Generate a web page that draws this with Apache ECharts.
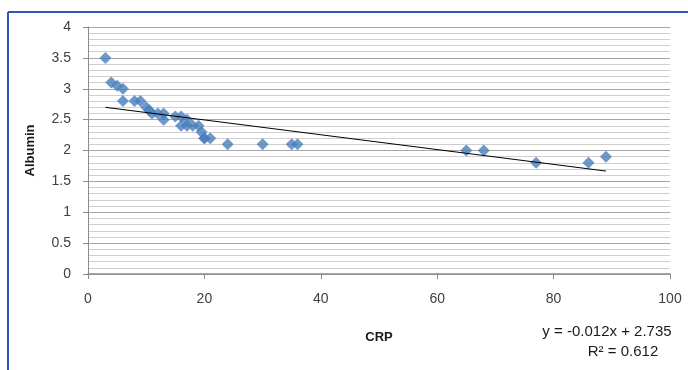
<!DOCTYPE html>
<html>
<head>
<meta charset="utf-8">
<script src="https://cdn.jsdelivr.net/npm/echarts@6/dist/echarts.min.js"></script>
<style>
html,body{margin:0;padding:0;background:#fff;}
#c{width:688px;height:370px;}
</style>
</head>
<body>
<div id="c"></div>
<script>
var crp = [3, 4, 5, 6, 6, 8, 9, 10, 10.5, 11, 12, 13, 13, 15, 16, 16, 17, 17, 18, 19, 19.5, 20, 20, 21, 24, 30, 35, 36, 65, 68, 77, 86, 89];
var albumin = [3.5, 3.1, 3.05, 3.0, 2.8, 2.8, 2.8, 2.7, 2.65, 2.6, 2.6, 2.5, 2.6, 2.55, 2.55, 2.4, 2.5, 2.4, 2.4, 2.4, 2.3, 2.2, 2.2, 2.2, 2.1, 2.1, 2.1, 2.1, 2.0, 2.0, 1.8, 1.8, 1.9];
var trendX = [3, 89];
var trendY = [2.699, 1.667];
var xTicks = [0, 20, 40, 60, 80, 100];
var yTicks = [0, 0.5, 1, 1.5, 2, 2.5, 3, 3.5, 4];
var equationText = 'y = -0.012x + 2.735';
var r2Text = 'R² = 0.612';

var chart = echarts.init(document.getElementById('c'), null, {renderer: 'canvas'});
var font = 'Liberation Sans';
var option = {
  animation: false,
  backgroundColor: '#fff',
  grid: {left: 88, right: 18, top: 27, bottom: 96, containLabel: false},
  xAxis: {
    type: 'value', min: xTicks[0], max: xTicks[xTicks.length - 1], interval: 20,
    name: 'CRP', nameLocation: 'middle', nameGap: 57,
    nameTextStyle: {fontFamily: font, fontSize: 13, fontWeight: 'bold', color: '#1a1a1a'},
    axisLine: {show: true, lineStyle: {color: '#8c8c8c', width: 1.5}},
    axisTick: {show: true, length: 5, lineStyle: {color: '#8c8c8c'}},
    axisLabel: {fontFamily: font, fontSize: 14, color: '#404040', margin: 18},
    splitLine: {show: false}
  },
  yAxis: {
    type: 'value', min: yTicks[0], max: yTicks[yTicks.length - 1], interval: 0.5,
    name: 'Albumin', nameLocation: 'middle', nameGap: 51, nameRotate: 90,
    nameTextStyle: {fontFamily: font, fontSize: 13, fontWeight: 'bold', color: '#1a1a1a'},
    axisLine: {show: true, lineStyle: {color: '#8c8c8c', width: 1}},
    axisTick: {show: true, length: 5, lineStyle: {color: '#8c8c8c'}},
    axisLabel: {fontFamily: font, fontSize: 14, color: '#404040', margin: 17},
    splitLine: {show: true, lineStyle: {color: '#a6a6a6', width: 1}},
    minorTick: {show: false, splitNumber: 5},
    minorSplitLine: {show: true, lineStyle: {color: '#cfcfcf', width: 1}}
  },
  series: [
    {
      type: 'scatter',
      symbol: 'diamond', symbolSize: 12,
      itemStyle: {color: '#4A7EBB'},
      data: crp.map(function (x, i) { return [x, albumin[i]]; }),
      z: 3
    },
    {
      type: 'line',
      symbol: 'none',
      lineStyle: {color: '#000', width: 1},
      data: trendX.map(function (x, i) { return [x, trendY[i]]; }),
      z: 4
    }
  ],
  graphic: [
    {type: 'line', shape: {x1: 8, y1: 12, x2: 8, y2: 370}, style: {stroke: '#2F55B5', lineWidth: 2}},
    {type: 'line', shape: {x1: 8, y1: 12, x2: 688, y2: 12}, style: {stroke: '#2F55B5', lineWidth: 2}},
    {type: 'text', x: 607, y: 332, style: {text: equationText, font: '15px "Liberation Sans"', fill: '#1a1a1a', textAlign: 'center', textVerticalAlign: 'middle'}},
    {type: 'text', x: 623, y: 352, style: {text: r2Text, font: '15px "Liberation Sans"', fill: '#1a1a1a', textAlign: 'center', textVerticalAlign: 'middle'}}
  ]
};
chart.setOption(option);
</script>
</body>
</html>
